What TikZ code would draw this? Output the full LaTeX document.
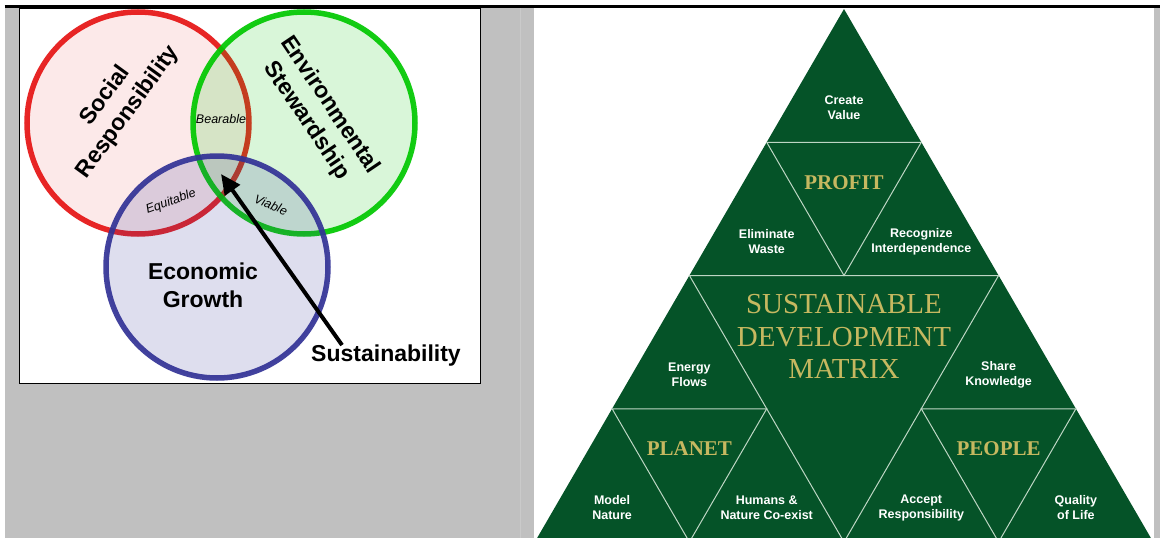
\documentclass[tikz,border=0pt]{standalone}
\usepackage{fontspec}
\usepackage{tikz}
\usetikzlibrary{arrows.meta}

\newfontfamily\sansfnt{Liberation Sans}
\newfontfamily\seriffnt{Liberation Serif}

\definecolor{panelgray}{RGB}{192,192,192}
\definecolor{seamgray}{RGB}{202,202,202}
\definecolor{socred}{RGB}{230,20,20}
\definecolor{envgreen}{RGB}{0,200,0}
\definecolor{ecoblue}{RGB}{50,50,150}
\definecolor{matgreen}{RGB}{5,83,40}
\definecolor{matgold}{RGB}{198,184,96}
\definecolor{matline}{RGB}{190,214,196}

\begin{document}
\begin{tikzpicture}[x=1pt, y=-1pt,
	ring/.style={line width=5.5pt, draw opacity=0.92},
	bigword/.style={font=\sansfnt\bfseries\fontsize{23}{28}\selectfont, align=center, inner sep=0pt},
	smallword/.style={font=\sansfnt\itshape\fontsize{12.5}{14}\selectfont, inner sep=0pt},
	cellword/.style={font=\sansfnt\bfseries\fontsize{12.5}{15}\selectfont, text=white, align=center, inner sep=0pt},
	pillar/.style={font=\seriffnt\bfseries\fontsize{21}{24}\selectfont, text=matgold, inner sep=0pt},
	matrule/.style={draw=matline, line width=1pt}]
	
	\useasboundingbox (0,0) rectangle (1160,538);
	
	% page background
	\fill[panelgray] (5,7) rectangle (534,538);
	\fill[panelgray] (1154,7) rectangle (1160,538);
	\draw[seamgray, line width=1pt] (520,8) -- (520,538);
	\draw[line width=3.2pt] (4.7,6.1) -- (1160,6.1);
	\draw[fill=white, line width=1pt] (19.5,8) rectangle (480,383);
	
	% venn circles
	\draw[ring, draw=socred, fill=socred, fill opacity=0.09] (138,123) circle (111pt);
	\draw[ring, draw=envgreen, fill=envgreen, fill opacity=0.15] (304,123) circle (111pt);
	\draw[ring, draw=ecoblue, fill=ecoblue, fill opacity=0.16] (217,267) circle (111pt);
	
	\node[bigword, rotate=54] (social) at (117,104) {Social\\Responsibility};
	\node[bigword, rotate=-56] (enviro) at (318,113) {Environmental\\Stewardship};
	\node[bigword] (econ) at (203,285) {Economic\\Growth};
	
	\node[smallword] (bearable) at (221,119) {Bearable};
	\node[smallword, rotate=20] (equitable) at (171,202) {Equitable};
	\node[smallword, rotate=-22] (viable) at (271,205) {Viable};
	
	\node[bigword] (sust) at (386,356) {Sustainability};
	\coordinate (core) at (221,174);
	\path[line width=4pt, -{Triangle[length=20pt, width=18pt]}] ([xshift=31pt]sust.north west) edge (core);
	
	% matrix triangle
	\coordinate (top) at (844,9);
	\coordinate (bl) at (534.8,542);
	\coordinate (br) at (1153.2,542);
	\fill[matgreen] (top) -- (bl) -- (br) -- cycle;
	
	\coordinate (a0) at (766.7,142.25);
	\coordinate (a1) at (921.3,142.25);
	\coordinate (b0) at (689.4,275.5);
	\coordinate (b1) at (844,275.5);
	\coordinate (b2) at (998.6,275.5);
	\coordinate (c0) at (612.1,408.75);
	\coordinate (c1) at (766.7,408.75);
	\coordinate (c2) at (921.3,408.75);
	\coordinate (c3) at (1075.9,408.75);
	\coordinate (d1) at (689.4,542);
	\coordinate (d2) at (844,542);
	\coordinate (d3) at (998.6,542);
	
	\draw[matrule] (a0) -- (a1) -- (b1) -- cycle;
	\draw[matrule] (b0) -- (b2) -- (d2) -- cycle;
	\draw[matrule] (c0) -- (c1) -- (d1) -- cycle;
	\draw[matrule] (c2) -- (c3) -- (d3) -- cycle;
	
	\node[cellword] (create) at (844,108) {Create\\Value};
	\node[cellword] (waste) at (766.7,241.5) {Eliminate\\Waste};
	\node[cellword] (interdep) at (921.3,241.5) {Recognize\\Interdependence};
	\node[cellword] (energy) at (689.4,375) {Energy\\Flows};
	\node[cellword] (share) at (998.6,375) {Share\\Knowledge};
	\node[cellword] (model) at (612.1,507.5) {Model\\Nature};
	\node[cellword] (coexist) at (766.7,507.5) {Humans \&\\Nature Co-exist};
	\node[cellword] (accept) at (921.3,507.5) {Accept\\Responsibility};
	\node[cellword] (quality) at (1075.9,507.5) {Quality\\of Life};
	
	\node[pillar] (profit) at (844,183) {PROFIT};
	\node[pillar] (planet) at (689.4,449) {PLANET};
	\node[pillar] (people) at (998.6,449) {PEOPLE};
	\node[font=\seriffnt\fontsize{29}{32.5}\selectfont, text=matgold, align=center, inner sep=0pt] (sdm) at (844,336.5) {SUSTAINABLE\\DEVELOPMENT\\MATRIX};
	
\end{tikzpicture}
\end{document}
